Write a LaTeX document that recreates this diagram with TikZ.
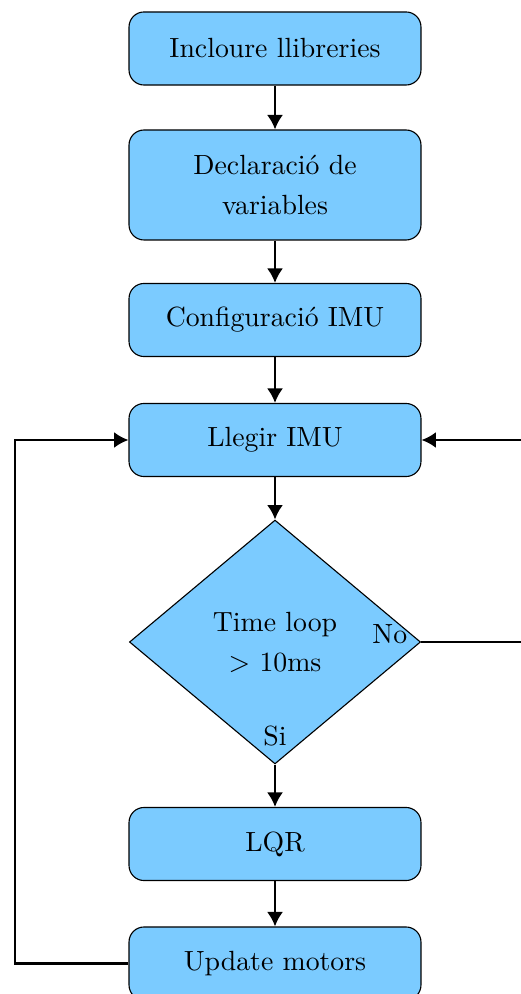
\documentclass[tikz,border=0pt]{standalone}
\usepackage{xcolor}
\usepackage{tikz}
\usetikzlibrary{positioning,shapes.geometric,arrows.meta}
\definecolor{stepfill}{RGB}{123,203,255}

\begin{document}
\begin{tikzpicture}[x=0.36pt, y=-0.36pt,
    procbox/.style={draw=black, line width=0.4pt, fill=stepfill, rounded corners=5.4pt,
      minimum width=105.1pt, minimum height=26.3pt, align=center,
      font=\fontsize{10}{14.4}\selectfont},
    decbox/.style={draw=black, line width=0.4pt, fill=stepfill, diamond, inner sep=0pt,
      minimum width=104.8pt, minimum height=87.8pt, align=center,
      font=\fontsize{10}{14.4}\selectfont},
    flow/.style={line width=0.9pt, -{Latex[length=5.2pt,width=5.8pt]}}]

\useasboundingbox (0,0) rectangle (520,994);

% ---- set-up
\node[procbox] (libs) at (275,48.5) {Incloure llibreries};
\node[procbox, minimum height=39.6pt] (vars) at (275,185) {Declaració de\\variables};
\node[procbox] (conf) at (275,320) {Configuració IMU};

% ---- loop
\node[procbox] (imu) at (275,440) {Llegir IMU};
\node[decbox] (dec) at (275,642) {Time loop\\$>$ 10ms};
\node[anchor=base east, xshift=-1.5pt] (no) at ([yshift=-0.4pt]dec.east) {No};
\node[anchor=south, yshift=3pt] (si) at (dec.south) {Si};
\node[procbox] (lqr) at (275,844) {LQR};
\node[procbox] (upd) at (275,963.5) {Update motors};

\coordinate (lft) at (15,440);
\coordinate (rgt) at (560,440);

\draw[flow] (libs) -- (vars);
\draw[flow] (vars) -- (conf);
\draw[flow] (conf) -- (imu);
\draw[flow] (imu) -- (dec);
\draw[flow] (dec.south) -- (lqr);
\draw[flow] (lqr) -- (upd);
\draw[flow] (upd.west) -- (upd.west -| lft) |- (imu.west);
\draw[flow] (dec.east) -- (dec.east -| rgt) |- (imu.east);
\end{tikzpicture}
\end{document}
